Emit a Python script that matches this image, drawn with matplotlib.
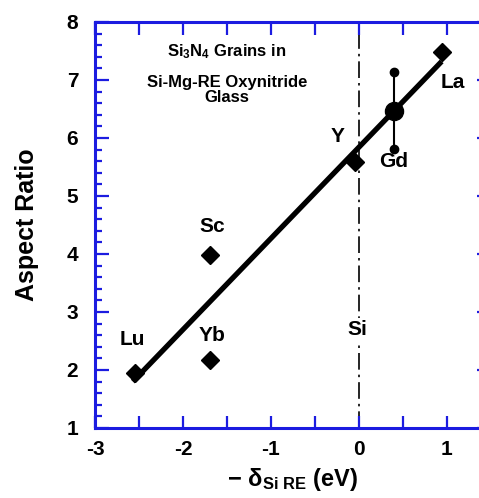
import matplotlib.pyplot as plt
import matplotlib.ticker as ticker

# datos
elementos = ["Lu", "Yb", "Sc", "Y", "La"]
delta = [-2.55, -1.69, -1.69, -0.05, 0.94]
aspecto = [1.95, 2.18, 3.98, 5.59, 7.48]

# Gd con barra de error
gd_x = 0.40
gd_y = 6.47
gd_min = 5.81
gd_max = 7.13

# recta de ajuste (extremos)
ajuste_x = [-2.57, 0.94]
ajuste_y = [1.80, 7.32]

# posiciones de las etiquetas
etiquetas = ["Lu", "Yb", "Sc", "Y", "Gd", "La"]
etiq_x = [-2.57, -1.67, -1.67, -0.24, 0.39, 1.07]
etiq_y = [2.52, 2.60, 4.47, 6.02, 5.59, 6.95]

azul = "#1c1ce0"

plt.rcParams["font.family"] = ["Liberation Sans", "DejaVu Sans"]
plt.rcParams["axes.unicode_minus"] = False
plt.rcParams["mathtext.fontset"] = "custom"
plt.rcParams["mathtext.rm"] = "Liberation Sans:bold"
plt.rcParams["mathtext.it"] = "Liberation Sans:bold"
plt.rcParams["mathtext.bf"] = "Liberation Sans:bold"

fig = plt.figure(figsize=(4.79, 4.98), dpi=100)
ax = fig.add_axes([0.1983, 0.1406, 0.8267, 0.8153])

# linea vertical del Si
ax.plot([0, 0], [1, 8], color="black", lw=1.2, dashes=(10, 3, 1.5, 3), zorder=1)

# recta de ajuste
ax.plot(ajuste_x, ajuste_y, color="black", lw=3.8, solid_capstyle="butt", zorder=2)

# puntos
ax.plot(delta, aspecto, "D", color="black", ms=9.5, zorder=3)
ax.plot([gd_x, gd_x], [gd_min, gd_max], "-o", color="black", lw=1.5, ms=6, zorder=3)
ax.plot([gd_x], [gd_y], "o", color="black", ms=13, zorder=4)

for t, x, y in zip(etiquetas, etiq_x, etiq_y):
    ax.text(x, y, t, fontsize=15, fontweight="bold", ha="center", va="center", zorder=5)

ax.text(-0.02, 2.69, "Si", fontsize=15, fontweight="bold", ha="center", va="center",
        zorder=5, bbox=dict(facecolor="white", edgecolor="none", pad=2))

# texto del recuadro
ax.text(-1.5, 7.40, r"Si$_3$N$_4$ Grains in", fontsize=12, fontweight="bold",
        ha="center", va="baseline")
ax.text(-1.5, 6.88, "Si-Mg-RE Oxynitride", fontsize=12, fontweight="bold",
        ha="center", va="baseline")
ax.text(-1.5, 6.62, "Glass", fontsize=12, fontweight="bold",
        ha="center", va="baseline")

ax.set_xlim(-3, 1.5)
ax.set_ylim(1, 8)

ax.xaxis.set_major_locator(ticker.MultipleLocator(1))
ax.xaxis.set_minor_locator(ticker.MultipleLocator(0.5))
ax.yaxis.set_major_locator(ticker.MultipleLocator(1))
ax.yaxis.set_minor_locator(ticker.MultipleLocator(0.2))

for s in ax.spines.values():
    s.set_color(azul)
    s.set_linewidth(2.2)

ax.tick_params(which="both", direction="in", top=True, right=True, color=azul,
               width=1.6, labelsize=15)
ax.tick_params(axis="x", which="both", length=9, pad=9)
ax.tick_params(axis="y", which="major", length=10, pad=12)
ax.tick_params(axis="y", which="minor", length=5)

for lab in ax.get_xticklabels() + ax.get_yticklabels():
    lab.set_fontweight("bold")

ax.set_ylabel("Aspect Ratio", fontsize=18, fontweight="bold", labelpad=20)
ax.set_xlabel(r"$-\ \delta_{Si\ RE}$ (eV)", fontsize=17, fontweight="bold", labelpad=5)

plt.savefig("out.png", dpi=100)
